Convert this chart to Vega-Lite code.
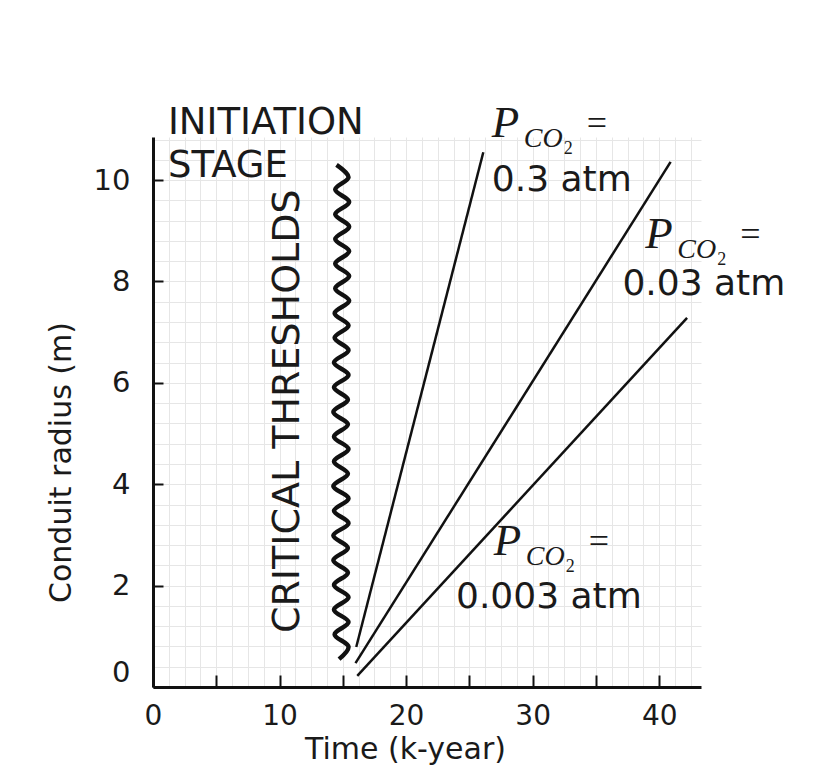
{
  "$schema": "https://vega.github.io/schema/vega-lite/v6.json",
  "width": 548,
  "height": 550,
  "autosize": {"type": "none"},
  "padding": {"left": 153, "top": 137, "right": 129, "bottom": 90},
  "background": "white",
  "config": {"view": {"stroke": null}, "font": "DejaVu Sans"},
  "datasets": {
    "lines": [
      {"series": "0.3 atm", "t": 16.06, "r": 0.79},
      {"series": "0.3 atm", "t": 26.1, "r": 10.55},
      {"series": "0.03 atm", "t": 16.0, "r": 0.47},
      {"series": "0.03 atm", "t": 40.9, "r": 10.36},
      {"series": "0.003 atm", "t": 16.14, "r": 0.22},
      {"series": "0.003 atm", "t": 42.2, "r": 7.28}
    ],
    "wave": [
      {"i": 0, "t": 14.7, "r": 0.55},
      {"i": 1, "t": 15.45, "r": 0.794},
      {"i": 2, "t": 14.35, "r": 1.038},
      {"i": 3, "t": 15.45, "r": 1.281},
      {"i": 4, "t": 14.3, "r": 1.525},
      {"i": 5, "t": 15.45, "r": 1.769},
      {"i": 6, "t": 14.3, "r": 2.013},
      {"i": 7, "t": 15.4, "r": 2.256},
      {"i": 8, "t": 14.25, "r": 2.5},
      {"i": 9, "t": 15.4, "r": 2.744},
      {"i": 10, "t": 14.25, "r": 2.988},
      {"i": 11, "t": 15.45, "r": 3.231},
      {"i": 12, "t": 14.3, "r": 3.475},
      {"i": 13, "t": 15.45, "r": 3.719},
      {"i": 14, "t": 14.25, "r": 3.963},
      {"i": 15, "t": 15.4, "r": 4.206},
      {"i": 16, "t": 14.3, "r": 4.45},
      {"i": 17, "t": 15.45, "r": 4.694},
      {"i": 18, "t": 14.3, "r": 4.938},
      {"i": 19, "t": 15.4, "r": 5.181},
      {"i": 20, "t": 14.25, "r": 5.425},
      {"i": 21, "t": 15.4, "r": 5.669},
      {"i": 22, "t": 14.3, "r": 5.913},
      {"i": 23, "t": 15.45, "r": 6.156},
      {"i": 24, "t": 14.3, "r": 6.4},
      {"i": 25, "t": 15.45, "r": 6.644},
      {"i": 26, "t": 14.35, "r": 6.888},
      {"i": 27, "t": 15.45, "r": 7.131},
      {"i": 28, "t": 14.35, "r": 7.375},
      {"i": 29, "t": 15.5, "r": 7.619},
      {"i": 30, "t": 14.4, "r": 7.863},
      {"i": 31, "t": 15.5, "r": 8.106},
      {"i": 32, "t": 14.4, "r": 8.35},
      {"i": 33, "t": 15.5, "r": 8.594},
      {"i": 34, "t": 14.4, "r": 8.838},
      {"i": 35, "t": 15.5, "r": 9.081},
      {"i": 36, "t": 14.4, "r": 9.325},
      {"i": 37, "t": 15.5, "r": 9.569},
      {"i": 38, "t": 14.4, "r": 9.813},
      {"i": 39, "t": 15.45, "r": 10.056},
      {"i": 40, "t": 14.5, "r": 10.3}
    ],
    "pco2": [
      {"t": 26.77, "r": 10.85, "vt": 26.77, "vr": 9.78, "value": "0.3 atm"},
      {"t": 38.9, "r": 8.66, "vt": 37.09, "vr": 7.73, "value": "0.03 atm"},
      {"t": 26.93, "r": 2.6, "vt": 23.94, "vr": 1.56, "value": "0.003 atm"}
    ],
    "notes": [
      {"t": 1.18, "r": 10.91, "label": "INITIATION"},
      {"t": 1.18, "r": 10.06, "label": "STAGE"}
    ],
    "vnote": [
      {"t": 10.63, "r": 5.44, "label": "CRITICAL THRESHOLDS"}
    ]
  },
  "layer": [
    {
      "data": {"name": "wave"},
      "mark": {"type": "line", "stroke": "#111", "strokeWidth": 4.5, "interpolate": "catmull-rom"},
      "encoding": {
        "x": {"field": "t", "type": "quantitative", "scale": {"domain": [0, 43.3], "nice": false, "zero": false},
          "axis": {"values": [1.25, 2.5, 3.75, 5, 6.25, 7.5, 8.75, 10, 11.25, 12.5, 13.75, 15, 16.25, 17.5, 18.75, 20, 21.25, 22.5, 23.75, 25, 26.25, 27.5, 28.75, 30, 31.25, 32.5, 33.75, 35, 36.25, 37.5, 38.75, 40, 41.25, 42.5],
            "grid": true, "gridColor": "#e6e6e6", "gridWidth": 1, "domain": false, "ticks": false, "labels": false, "title": null, "orient": "bottom", "zindex": 0}},
        "y": {"field": "r", "type": "quantitative", "scale": {"domain": [0, 10.85], "nice": false, "zero": false},
          "axis": {"values": [0.4, 0.8, 1.2, 1.6, 2, 2.4, 2.8, 3.2, 3.6, 4, 4.4, 4.8, 5.2, 5.6, 6, 6.4, 6.8, 7.2, 7.6, 8, 8.4, 8.8, 9.2, 9.6, 10, 10.4, 10.8],
            "grid": true, "gridColor": "#e6e6e6", "gridWidth": 1, "domain": false, "ticks": false, "labels": false, "title": null, "orient": "left", "zindex": 0}},
        "order": {"field": "i", "type": "quantitative"}
      }
    },
    {
      "data": {"name": "lines"},
      "mark": {"type": "line", "stroke": "#111", "strokeWidth": 2.5},
      "encoding": {
        "x": {"field": "t", "type": "quantitative",
          "axis": {"values": [0, 5, 10, 15, 20, 25, 30, 35, 40], "labelExpr": "datum.value % 10 === 0 ? datum.label : ''",
            "grid": false, "domainColor": "#111", "domainWidth": 3, "tickColor": "#111", "tickWidth": 2, "tickSize": -12,
            "labelFont": "DejaVu Sans", "labelFontSize": 28, "labelColor": "#1a1a1a", "labelPadding": 27, "labelBaseline": "top", "labelFlush": false,
            "title": "Time (k-year)", "titleFont": "DejaVu Sans", "titleFontSize": 30, "titleFontWeight": "normal", "titleColor": "#1a1a1a",
            "titleX": 252, "titleY": 62, "titleBaseline": "middle", "titleAlign": "center", "orient": "bottom", "zindex": 1}},
        "y": {"field": "r", "type": "quantitative",
          "axis": {"values": [0, 2, 4, 6, 8, 10],
            "grid": false, "domainColor": "#111", "domainWidth": 3, "tickColor": "#111", "tickWidth": 2, "tickSize": -10,
            "labelFont": "DejaVu Sans", "labelFontSize": 29, "labelColor": "#1a1a1a", "labelPadding": 33, "labelFlush": true,
            "title": "Conduit radius (m)", "titleFont": "DejaVu Sans", "titleFontSize": 30, "titleFontWeight": "normal", "titleColor": "#1a1a1a",
            "titleX": -92, "titleY": 325, "titleBaseline": "middle", "titleAlign": "center", "titleAngle": -90, "orient": "left", "zindex": 1}},
        "detail": {"field": "series", "type": "nominal"}
      }
    },
    {
      "data": {"name": "pco2"},
      "mark": {"type": "text", "text": "P", "font": "Liberation Serif", "fontStyle": "italic", "fontSize": 45, "align": "left", "baseline": "alphabetic", "color": "#1a1a1a"},
      "encoding": {
        "x": {"field": "t", "type": "quantitative", "axis": null},
        "y": {"field": "r", "type": "quantitative", "axis": null}
      }
    },
    {
      "data": {"name": "pco2"},
      "mark": {"type": "text", "text": "CO", "font": "Liberation Serif", "fontStyle": "italic", "fontSize": 28, "align": "left", "baseline": "alphabetic", "dx": 32, "dy": 10, "color": "#1a1a1a"},
      "encoding": {
        "x": {"field": "t", "type": "quantitative", "axis": null},
        "y": {"field": "r", "type": "quantitative", "axis": null}
      }
    },
    {
      "data": {"name": "pco2"},
      "mark": {"type": "text", "text": "2", "font": "Liberation Serif", "fontSize": 18, "align": "left", "baseline": "alphabetic", "dx": 72, "dy": 17, "color": "#1a1a1a"},
      "encoding": {
        "x": {"field": "t", "type": "quantitative", "axis": null},
        "y": {"field": "r", "type": "quantitative", "axis": null}
      }
    },
    {
      "data": {"name": "pco2"},
      "mark": {"type": "text", "text": "=", "font": "Liberation Serif", "fontSize": 36, "align": "left", "baseline": "alphabetic", "dx": 95, "dy": -2, "color": "#1a1a1a"},
      "encoding": {
        "x": {"field": "t", "type": "quantitative", "axis": null},
        "y": {"field": "r", "type": "quantitative", "axis": null}
      }
    },
    {
      "data": {"name": "pco2"},
      "mark": {"type": "text", "font": "DejaVu Sans", "fontSize": 36, "align": "left", "baseline": "alphabetic", "color": "#1a1a1a"},
      "encoding": {
        "x": {"field": "vt", "type": "quantitative", "axis": null},
        "y": {"field": "vr", "type": "quantitative", "axis": null},
        "text": {"field": "value"}
      }
    },
    {
      "data": {"name": "notes"},
      "mark": {"type": "text", "font": "DejaVu Sans", "fontSize": 37, "align": "left", "baseline": "alphabetic", "color": "#1a1a1a"},
      "encoding": {
        "x": {"field": "t", "type": "quantitative", "axis": null},
        "y": {"field": "r", "type": "quantitative", "axis": null},
        "text": {"field": "label"}
      }
    },
    {
      "data": {"name": "vnote"},
      "mark": {"type": "text", "font": "DejaVu Sans", "fontSize": 38, "align": "center", "baseline": "middle", "angle": 270, "color": "#1a1a1a"},
      "encoding": {
        "x": {"field": "t", "type": "quantitative", "axis": null},
        "y": {"field": "r", "type": "quantitative", "axis": null},
        "text": {"field": "label"}
      }
    }
  ],
  "resolve": {"axis": {"x": "independent", "y": "independent"}}
}
